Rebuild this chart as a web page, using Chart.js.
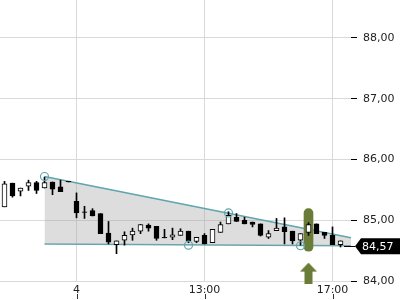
<!DOCTYPE html>
<html>
<head>
<meta charset="utf-8">
<script src="https://cdn.jsdelivr.net/npm/chart.js@4"></script>
<style>
  html, body { margin: 0; padding: 0; background: #fff; }
  #wrap { width: 400px; height: 300px; }
</style>
</head>
<body>
<div id="wrap"><canvas id="chart"></canvas></div>
<script>
// 15 minute candles, one per slot
const opens  = [85.22, 85.61, 85.48, 85.56, 85.62, 85.53, 85.63, 85.55, 85.64, 85.31, 85.14, 85.16, 85.11, 84.79, 84.60, 84.67, 84.76, 84.82, 84.92, 84.90, 84.72, 84.72, 84.75, 84.82, 84.65, 84.75, 84.63, 84.80, 84.94, 85.05, 85.00, 84.97, 84.94, 84.72, 84.83, 84.89, 84.82, 84.67, 84.80, 84.94, 84.80, 84.75, 84.60];
const closes = [85.60, 85.40, 85.53, 85.62, 85.49, 85.62, 85.51, 85.47, 85.63, 85.12, 85.13, 85.07, 84.78, 84.64, 84.66, 84.75, 84.82, 84.93, 84.87, 84.70, 84.71, 84.76, 84.82, 84.66, 84.72, 84.61, 84.85, 84.93, 85.08, 84.98, 84.94, 84.93, 84.75, 84.78, 84.87, 84.81, 84.66, 84.78, 84.93, 84.78, 84.75, 84.60, 84.66];
const highs  = [85.64, 85.61, 85.53, 85.66, 85.64, 85.71, 85.63, 85.66, 85.64, 85.45, 85.23, 85.19, 85.11, 84.98, 84.66, 84.81, 84.87, 84.93, 84.94, 84.90, 84.85, 84.87, 84.86, 84.82, 84.72, 84.78, 84.85, 84.97, 85.14, 85.11, 85.05, 84.97, 84.94, 84.83, 85.03, 85.04, 84.82, 84.78, 84.96, 84.94, 84.80, 84.89, 84.66];
const lows   = [85.22, 85.38, 85.40, 85.49, 85.44, 85.53, 85.42, 85.47, 85.63, 85.04, 85.03, 85.07, 84.78, 84.61, 84.45, 84.59, 84.67, 84.78, 84.82, 84.67, 84.71, 84.68, 84.75, 84.63, 84.63, 84.61, 84.63, 84.80, 84.94, 84.98, 84.94, 84.89, 84.74, 84.70, 84.83, 84.61, 84.61, 84.59, 84.75, 84.78, 84.70, 84.60, 84.56];

const xTickSlots  = [9, 25, 41];
const xTickLabels = ['4', '13:00', '17:00'];
const yTicks = [84, 85, 86, 87, 88];

// triangle pattern
const lineSlots  = [5, 43.3125];
const upperLine  = [85.72, 84.71];
const lowerLine  = [84.61, 84.58];
const touchSlots = [5, 23, 28, 37];
const touchPrices = [85.72, 84.59, 85.12, 84.58];

// breakout signal
const signalSlot = 38;
const signalRange = [84.49, 85.19];
const arrowPrice = 84.13;
const lastPrice = 84.57;

const teal = '#5ea5ad';
const olive = '#6b7c39';

function fmt(v) { return v.toFixed(2).replace('.', ','); }

// arrow icon used as point style
const arrowImg = document.createElement('canvas');
arrowImg.width = 17; arrowImg.height = 21;
(function() {
  const c = arrowImg.getContext('2d');
  c.fillStyle = olive;
  c.beginPath();
  c.moveTo(0, 9); c.lineTo(8.5, 0); c.lineTo(17, 9);
  c.closePath(); c.fill();
  c.fillRect(4.5, 8, 8, 13);
})();

const bodies = opens.map((o, i) => ({ x: i, y: [o, closes[i]] }));
const wicks = highs.map((h, i) => ({ x: i, y: [lows[i], h] }));
const bodyColors = opens.map((o, i) => closes[i] >= o ? '#ffffff' : '#000000');

const priceTag = {
  id: 'priceTag',
  afterDraw(chart) {
    const ctx = chart.ctx;
    const area = chart.chartArea;
    const y = chart.scales.y.getPixelForValue(lastPrice);
    ctx.save();
    ctx.strokeStyle = '#000';
    ctx.lineWidth = 1;
    ctx.beginPath();
    ctx.moveTo(area.right - 7, Math.round(y) + 0.5);
    ctx.lineTo(area.right + 4, Math.round(y) + 0.5);
    ctx.stroke();
    ctx.fillStyle = '#000';
    ctx.beginPath();
    ctx.moveTo(area.right + 4, y);
    ctx.lineTo(area.right + 10, y - 8);
    ctx.lineTo(chart.width, y - 8);
    ctx.lineTo(chart.width, y + 8);
    ctx.lineTo(area.right + 10, y + 8);
    ctx.closePath();
    ctx.fill();
    ctx.fillStyle = '#fff';
    ctx.font = '11px "DejaVu Sans"';
    ctx.textBaseline = 'middle';
    ctx.fillText(fmt(lastPrice), area.right + 11, y + 1);
    // small tick marks under the time labels
    const xs = chart.scales.x;
    ctx.strokeStyle = '#333';
    xTickSlots.forEach(v => {
      const px = Math.round(xs.getPixelForValue(v)) + 0.5;
      ctx.beginPath();
      ctx.moveTo(px, chart.height - 6);
      ctx.lineTo(px, chart.height - 1);
      ctx.stroke();
    });
    ctx.restore();
  }
};

Chart.defaults.font.family = '"DejaVu Sans", sans-serif';
Chart.defaults.font.size = 11;
Chart.defaults.color = '#222';

new Chart(document.getElementById('chart'), {
  type: 'bar',
  data: {
    datasets: [
      {
        type: 'line', data: lineSlots.map((x, i) => ({ x, y: upperLine[i] })),
        borderColor: teal, borderWidth: 1.5, pointRadius: 0,
        fill: '+1', backgroundColor: 'rgba(165,165,165,0.38)', order: 10
      },
      {
        type: 'line', data: lineSlots.map((x, i) => ({ x, y: lowerLine[i] })),
        borderColor: teal, borderWidth: 1.5, pointRadius: 0, fill: false, order: 10
      },
      {
        data: [{ x: signalSlot, y: signalRange }],
        backgroundColor: olive, barThickness: 9, borderRadius: 4.5,
        borderSkipped: false, grouped: false, order: 8
      },
      {
        data: wicks, backgroundColor: '#000', barThickness: 1,
        grouped: false, order: 6
      },
      {
        data: bodies, backgroundColor: bodyColors, borderColor: '#000',
        borderWidth: 1, borderSkipped: false, barThickness: 5,
        grouped: false, order: 4
      },
      {
        type: 'scatter', data: touchSlots.map((x, i) => ({ x, y: touchPrices[i] })),
        pointRadius: 4, pointBorderColor: teal, pointBackgroundColor: 'rgba(0,0,0,0)',
        pointBorderWidth: 1.2, order: 2
      },
      {
        type: 'scatter', data: [{ x: signalSlot, y: arrowPrice }],
        pointStyle: arrowImg, clip: false, order: 1
      }
    ]
  },
  options: {
    responsive: true,
    maintainAspectRatio: false,
    animation: false,
    events: [],
    layout: { padding: 0, autoPadding: false },
    plugins: { legend: { display: false }, tooltip: { enabled: false } },
    scales: {
      x: {
        type: 'linear',
        min: -0.5625,
        max: 43.3125,
        offset: false,
        grid: { color: '#d9d9d9', offset: false, drawTicks: false },
        border: { display: false },
        ticks: {
          padding: 3, autoSkip: false, maxRotation: 0,
          callback: v => xTickLabels[xTickSlots.indexOf(v)] || ''
        },
        afterBuildTicks: s => { s.ticks = xTickSlots.map(v => ({ value: v })); },
        afterFit: s => { s.height = 19; s.paddingLeft = 0; s.paddingRight = 0; }
      },
      y: {
        position: 'right',
        min: 84,
        max: 88.625,
        grid: { color: '#d9d9d9', tickColor: '#000', tickLength: 6 },
        border: { display: false },
        ticks: { padding: 6, callback: v => fmt(v) },
        afterBuildTicks: s => { s.ticks = yTicks.map(v => ({ value: v })); },
        afterFit: s => { s.width = 49; s.paddingTop = 0; s.paddingBottom = 0; }
      }
    }
  },
  plugins: [priceTag]
});
</script>
</body>
</html>
